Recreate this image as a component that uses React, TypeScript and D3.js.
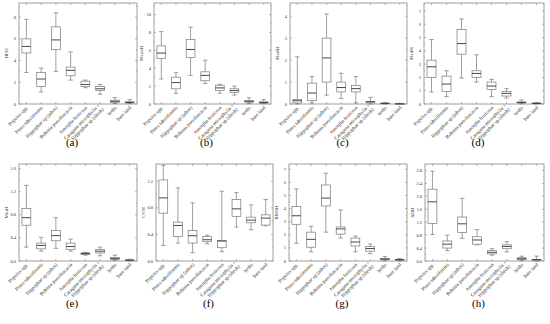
import React from 'react';
import * as d3 from 'd3';

// categories along the x axis (same for every panel)
const categories = [
  ['Populus spp.'],
  ['Pinus tabuliformis'],
  ['Hippophae sp.(arbor)'],
  ['Robinia pseudoacacia'],
  ['Amorpha fruticosa'],
  ['Caragana microphylla +', 'Hippophae sp.(shrub)'],
  ['herbs'],
  ['bare land'],
];

// box stats per category: [min, q1, median, q3, max]
const hpd = [
  [2.9, 4.7, 5.3, 6.0, 7.8], [1.1, 1.6, 2.3, 2.9, 3.3], [3.0, 5.0, 5.9, 7.1, 8.4], [2.2, 2.6, 3.1, 3.4, 4.8],
  [1.5, 1.6, 1.8, 2.1, 2.2], [0.9, 1.25, 1.4, 1.6, 1.8], [0.05, 0.15, 0.25, 0.35, 0.6], [0.05, 0.1, 0.15, 0.2, 0.4],
];
const meanH = [
  [2.8, 5.1, 5.7, 6.5, 8.1], [1.2, 1.7, 2.4, 3.0, 3.5], [3.2, 5.2, 6.1, 7.2, 8.6], [2.3, 2.6, 3.2, 3.6, 4.9],
  [1.2, 1.5, 1.8, 2.1, 2.2], [1.0, 1.3, 1.5, 1.7, 2.0], [0.05, 0.2, 0.3, 0.4, 0.7], [0.05, 0.1, 0.15, 0.25, 0.5],
];
const modH = [
  [0, 0.05, 0.15, 0.2, 2.15], [0.05, 0.15, 0.5, 0.95, 1.25], [0.4, 1.0, 2.1, 3.0, 4.1], [0.25, 0.55, 0.75, 1.0, 1.4],
  [0.05, 0.55, 0.7, 0.85, 1.25], [0, 0.05, 0.1, 0.12, 0.3], [0, 0.02, 0.03, 0.04, 0.05], [0, 0, 0.01, 0.01, 0.02],
];
const medH = [
  [0.9, 2.0, 2.8, 3.3, 4.85], [0.55, 0.95, 1.5, 2.1, 2.5], [1.95, 3.75, 4.55, 5.6, 6.4], [1.65, 2.0, 2.3, 2.5, 3.7],
  [0.55, 1.1, 1.35, 1.65, 1.85], [0.45, 0.6, 0.8, 0.95, 1.15], [0.02, 0.08, 0.12, 0.15, 0.3], [0, 0.03, 0.05, 0.07, 0.1],
];
const minH = [
  [0.24, 0.62, 0.75, 0.91, 1.31], [0.17, 0.21, 0.27, 0.31, 0.41], [0.22, 0.35, 0.44, 0.53, 0.75], [0.17, 0.2, 0.25, 0.31, 0.38],
  [0.1, 0.11, 0.13, 0.14, 0.15], [0.09, 0.14, 0.17, 0.2, 0.24], [0.01, 0.03, 0.04, 0.06, 0.1], [0, 0.01, 0.015, 0.02, 0.03],
];
const cvH = [
  [0.235, 0.72, 0.95, 1.22, 1.44], [0.27, 0.37, 0.535, 0.585, 1.1], [0.125, 0.27, 0.38, 0.46, 0.875], [0.26, 0.29, 0.32, 0.37, 0.39],
  [0.14, 0.2, 0.3, 0.31, 1.05], [0.51, 0.67, 0.785, 0.925, 1.03], [0.47, 0.575, 0.615, 0.66, 0.845], [0.53, 0.54, 0.645, 0.695, 0.925],
];
const rmsH = [
  [1.35, 2.8, 3.45, 4.15, 5.5], [0.7, 1.05, 1.65, 2.2, 2.65], [2.2, 4.2, 4.8, 5.8, 6.7], [1.75, 2.05, 2.45, 2.6, 3.9],
  [0.7, 1.15, 1.45, 1.75, 1.9], [0.55, 0.75, 0.95, 1.1, 1.3], [0.02, 0.1, 0.15, 0.2, 0.35], [0, 0.05, 0.1, 0.12, 0.2],
];
const sdH = [
  [0.82, 1.16, 1.83, 2.22, 2.78], [0.32, 0.4, 0.52, 0.62, 0.8], [0.7, 0.88, 1.15, 1.36, 1.94], [0.5, 0.52, 0.65, 0.75, 0.97],
  [0.18, 0.22, 0.27, 0.32, 0.38], [0.28, 0.38, 0.45, 0.5, 0.6], [0.01, 0.04, 0.07, 0.1, 0.15], [0, 0.02, 0.04, 0.05, 0.15],
];

const panels = [
  { tag: '(a)', label: 'HPD', stats: hpd, max: 9.3, step: 2, fmt: '.0f' },
  { tag: '(b)', label: 'MeanH', stats: meanH, max: 11.3, step: 2, fmt: '.0f' },
  { tag: '(c)', label: 'ModH', stats: modH, max: 4.6, step: 1, fmt: '.0f' },
  { tag: '(d)', label: 'MedH', stats: medH, max: 7.6, step: 1, fmt: '.0f' },
  { tag: '(e)', label: 'MinH', stats: minH, max: 1.68, step: 0.4, fmt: '.1f' },
  { tag: '(f)', label: 'CVH', stats: cvH, max: 1.46, step: 0.4, fmt: '.1f' },
  { tag: '(g)', label: 'RMSH', stats: rmsH, max: 7.4, step: 1, fmt: '.0f' },
  { tag: '(h)', label: 'SDH', stats: sdH, max: 3.0, step: 0.4, fmt: '.1f' },
];

// frame boxes [left, top, right, bottom, tag baseline]
const frames = [
  [19, 3, 137, 104, 146], [154, 3, 271, 104, 146], [290, 3, 407, 104, 146], [424, 3, 544, 104, 146],
  [19, 164, 137, 261, 307], [156, 164, 273, 261, 307], [289, 164, 407, 261, 307], [425, 164, 544, 261, 307],
];

const LINE = '#777';
const DARK = '#333';
const FONT = '"Liberation Serif", "Times New Roman", serif';

function Panel({ p, f }: any) {
  const [x0, y0, x1, y1, ty] = f;
  const x = d3.scaleBand().domain(d3.range(categories.length).map(String)).range([x0, x1]);
  const y = d3.scaleLinear().domain([0, p.max]).range([y1, y0]);
  const ticks = d3.range(0, p.max + 1e-9, p.step);
  const minor = d3.range(p.step / 2, p.max, p.step);
  const fmt = d3.format(p.fmt);
  const bw = x.bandwidth() * 0.6;

  return (
    <g>
      <rect x={x0} y={y0} width={x1 - x0} height={y1 - y0} fill="none" stroke={LINE} strokeWidth={0.7} />
      {ticks.map((t: number, i: number) => (
        <g key={'t' + i}>
          <line x1={x0} x2={x0 + 2} y1={y(t)} y2={y(t)} stroke={LINE} strokeWidth={0.5} />
          <line x1={x1} x2={x1 - 2} y1={y(t)} y2={y(t)} stroke={LINE} strokeWidth={0.5} />
          <text x={x0 - 3} y={y(t)} dy="0.35em" fontSize={4.5} textAnchor="end" fill={DARK}>{fmt(t)}</text>
        </g>
      ))}
      {minor.map((t: number, i: number) => (
        <g key={'m' + i}>
          <line x1={x0} x2={x0 + 1} y1={y(t)} y2={y(t)} stroke={LINE} strokeWidth={0.5} />
          <line x1={x1} x2={x1 - 1} y1={y(t)} y2={y(t)} stroke={LINE} strokeWidth={0.5} />
        </g>
      ))}
      <text transform={`translate(${x0 - 11},${(y0 + y1) / 2}) rotate(-90)`} fontSize={5} textAnchor="middle" fill={DARK}>{p.label}</text>
      {categories.map((c, i) => {
        const cx = x(String(i))! + x.bandwidth() / 2;
        const [mn, q1, md, q3, mx] = p.stats[i];
        return (
          <g key={i}>
            <line x1={cx} x2={cx} y1={y1} y2={y1 - 2} stroke={LINE} strokeWidth={0.5} />
            <line x1={cx} x2={cx} y1={y0} y2={y0 + 2} stroke={LINE} strokeWidth={0.5} />
            <line x1={cx} x2={cx} y1={y(mx)} y2={y(q3)} stroke={LINE} strokeWidth={0.7} />
            <line x1={cx} x2={cx} y1={y(q1)} y2={y(mn)} stroke={LINE} strokeWidth={0.7} />
            <line x1={cx - bw / 4} x2={cx + bw / 4} y1={y(mx)} y2={y(mx)} stroke={LINE} strokeWidth={0.7} />
            <line x1={cx - bw / 4} x2={cx + bw / 4} y1={y(mn)} y2={y(mn)} stroke={LINE} strokeWidth={0.7} />
            <rect x={cx - bw / 2} y={y(q3)} width={bw} height={Math.max(0.6, y(q1) - y(q3))} fill="#fff" stroke={LINE} strokeWidth={0.7} />
            <line x1={cx - bw / 2} x2={cx + bw / 2} y1={y(md)} y2={y(md)} stroke={DARK} strokeWidth={0.9} />
            <text transform={`translate(${cx + 2},${y1 + 4}) rotate(-45)`} fontSize={5} textAnchor="end" fill={DARK}>
              {c.map((s, k) => (
                <tspan key={k} x={0} dy={k === 0 ? (c.length > 1 ? -3 : 0) : 5.5}>{s}</tspan>
              ))}
            </text>
          </g>
        );
      })}
      <text x={(x0 + x1) / 2 - 6} y={ty} fontSize={11} textAnchor="middle" fill="#000">{p.tag}</text>
    </g>
  );
}

export default function App() {
  return (
    <svg width={550} height={324} style={{ position: 'absolute', left: 0, top: 0, background: '#fff' }} fontFamily={FONT}>
      {panels.map((p, i) => <Panel key={i} p={p} f={frames[i]} />)}
    </svg>
  );
}
